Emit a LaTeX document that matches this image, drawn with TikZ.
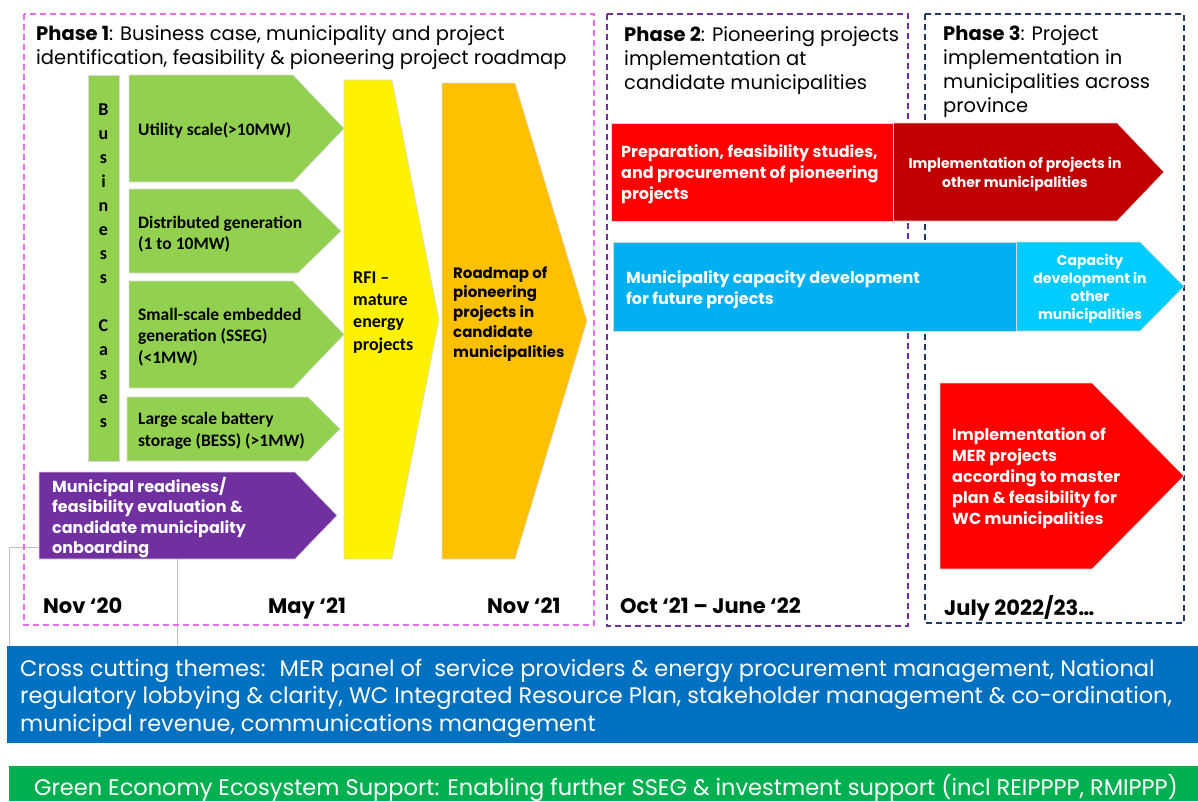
\documentclass[tikz,border=0pt]{standalone}
\usepackage{fontspec}
\setmainfont{Poppins}
\newfontfamily\calibfont{Carlito}
\usetikzlibrary{positioning}

\definecolor{leafgreen}{HTML}{92D050}
\definecolor{plum}{HTML}{7030A0}
\definecolor{amber}{HTML}{FFC000}
\definecolor{firered}{HTML}{FF0000}
\definecolor{darkred}{HTML}{C00000}
\definecolor{skyblue}{HTML}{00B0F0}
\definecolor{paleblue}{HTML}{00CCFF}
\definecolor{barblue}{HTML}{0070C0}
\definecolor{bargreen}{HTML}{00B050}
\definecolor{pinkline}{HTML}{E86DE8}
\definecolor{navyline}{HTML}{1F3864}

% arrow-shaped block: style, left x, top y, body end x, tip x, bottom y
\newcommand{\flagarrow}[6]{%
  \path[#1] (#2,#3) -- (#4,#3) -- (#5,{(#3+#6)/2}) -- (#4,#6) -- (#2,#6) -- cycle;}

\begin{document}
\begin{tikzpicture}[
    x=1pt, y=-1pt,
    phasebox/.style={dash pattern=on 6pt off 4pt, line width=1.4pt},
    blockfill/.style={fill=#1, draw=black!15, line width=0.6pt},
    % multi-line texts are placed by the baseline of their last line
    title/.style={anchor=base west, inner sep=0pt, align=left, font=\fontsize{19.5}{23.7}\selectfont},
    greentxt/.style={anchor=base west, inner sep=0pt, align=left, font=\calibfont\bfseries\fontsize{17.5}{21.5}\selectfont},
    whitetxt/.style={anchor=base west, inner sep=0pt, align=left, text=white, font=\bfseries\fontsize{16}{21}\selectfont},
    smalltxt/.style={anchor=base, inner sep=0pt, align=center, text=white, font=\bfseries\fontsize{14}{18.5}\selectfont},
    datetxt/.style={anchor=base west, inner sep=0pt, font=\bfseries\fontsize{21}{24}\selectfont},
    bartxt/.style={inner sep=0pt, text=white, font=\fontsize{22.5}{27.5}\selectfont}
  ]
  \useasboundingbox (0,0) rectangle (1198,801);

  % stray text-box outline behind the purple block
  \draw[black!25, line width=0.8pt] (9,646) -- (9,547) -- (40,547);
  \draw[black!25, line width=0.8pt] (177,559) -- (177,646);

  % phase frames
  \draw[phasebox, pinkline] (24,14) rectangle (594,625);
  \draw[phasebox, plum] (607,14) rectangle (908,626);
  \draw[phasebox, navyline] (925,14) rectangle (1184,623);

  \node[title] (p1head) at (36,64) {\textbf{Phase 1}: Business case, municipality and project\\identification, feasibility \& pioneering project roadmap};
  \node[title] (p2head) at (624,89) {\textbf{Phase 2}: Pioneering projects\\implementation at\\candidate municipalities};
  \node[title] (p3head) at (943,112) {\textbf{Phase 3}: Project\\implementation in\\municipalities across\\province};

  % phase 1 blocks
  \path[blockfill=leafgreen] (88,75) rectangle (119,461);
  \node[anchor=center, inner sep=0pt, align=center, font=\calibfont\bfseries\fontsize{18}{24}\selectfont] (bizcases) at (103.5,266) {B\\u\\s\\i\\n\\e\\s\\s\\[24pt]C\\a\\s\\e\\s};

  \flagarrow{blockfill=leafgreen}{129}{75}{293}{344}{182}
  \flagarrow{blockfill=leafgreen}{129}{189}{298}{341}{273}
  \flagarrow{blockfill=leafgreen}{129}{281}{293}{344}{388}
  \flagarrow{blockfill=leafgreen}{127}{397}{308}{340}{461}
  \flagarrow{blockfill=plum}{39}{472}{295}{337}{559}
  \flagarrow{blockfill=yellow}{344}{80}{392}{439}{559}
  \flagarrow{blockfill=amber}{442}{83}{515}{587}{559}

  \node[greentxt] (utility) at (138,135) {Utility scale(>10MW)};
  \node[greentxt] (distgen) at (138,249.5) {Distributed generation\\(1 to 10MW)};
  \node[greentxt] (sseg) at (138,363) {Small-scale embedded\\generation (SSEG)\\(<1MW)};
  \node[greentxt] (bess) at (138,446) {Large scale battery\\storage (BESS) (>1MW)};
  \node[whitetxt, font=\bfseries\fontsize{16}{20.5}\selectfont] (readiness) at (52,553.5) {Municipal readiness/\\feasibility evaluation \&\\candidate municipality\\onboarding};
  \node[greentxt, font=\calibfont\bfseries\fontsize{18}{22.3}\selectfont] (rfi) at (353,350) {RFI –\\mature\\energy\\projects};
  \node[whitetxt, text=black, font=\bfseries\fontsize{15}{19.7}\selectfont] (roadmap) at (453,357) {Roadmap of\\pioneering\\projects in\\candidate\\municipalities};

  \node[datetxt] (nov20) at (43,613) {Nov ‘20};
  \node[datetxt] (may21) at (268,613) {May ‘21};
  \node[datetxt] (nov21) at (487,613) {Nov ‘21};

  % phase 2 and 3 blocks
  \flagarrow{blockfill=darkred}{893}{123}{1117}{1164}{221}
  \path[blockfill=firered] (611,123) rectangle (893,221);
  \flagarrow{blockfill=paleblue}{1016}{242}{1140}{1184}{331}
  \path[blockfill=skyblue] (613,242) rectangle (1016,331);
  \flagarrow{blockfill=firered}{940}{383}{1092}{1184}{569}

  \node[whitetxt] (prep) at (621,199) {Preparation, feasibility studies,\\and procurement of pioneering\\projects};
  \node[smalltxt] (otherimpl) at (1015,187) {Implementation of projects in\\other municipalities};
  \node[whitetxt] (capdev) at (626,304) {Municipality capacity development\\for future projects};
  \node[smalltxt, font=\bfseries\fontsize{14}{18}\selectfont] (othercap) at (1090,319) {Capacity\\development in\\other\\municipalities};
  \node[whitetxt] (merimpl) at (952,524) {Implementation of\\MER projects\\according to master\\plan \& feasibility for\\WC municipalities};

  \node[datetxt] (oct21) at (620,613) {Oct ‘21 – June ‘22};
  \node[datetxt] (jul22) at (944,615) {July 2022/23…};

  % cross cutting bars
  \fill[barblue] (7,646) rectangle (1198,743);
  \node[bartxt, anchor=base west, align=left] (themes) at (20,731) {Cross cutting themes:~ MER panel of~ service providers \& energy procurement management, National\\regulatory lobbying \& clarity, WC Integrated Resource Plan, stakeholder management \& co-ordination,\\municipal revenue, communications management};
  \fill[bargreen] (9,766) rectangle (1198,801);
  \node[bartxt, anchor=base] (ecosys) at (606,795) {Green Economy Ecosystem Support: Enabling further SSEG \& investment support (incl REIPPPP, RMIPPP)};
\end{tikzpicture}
\end{document}
